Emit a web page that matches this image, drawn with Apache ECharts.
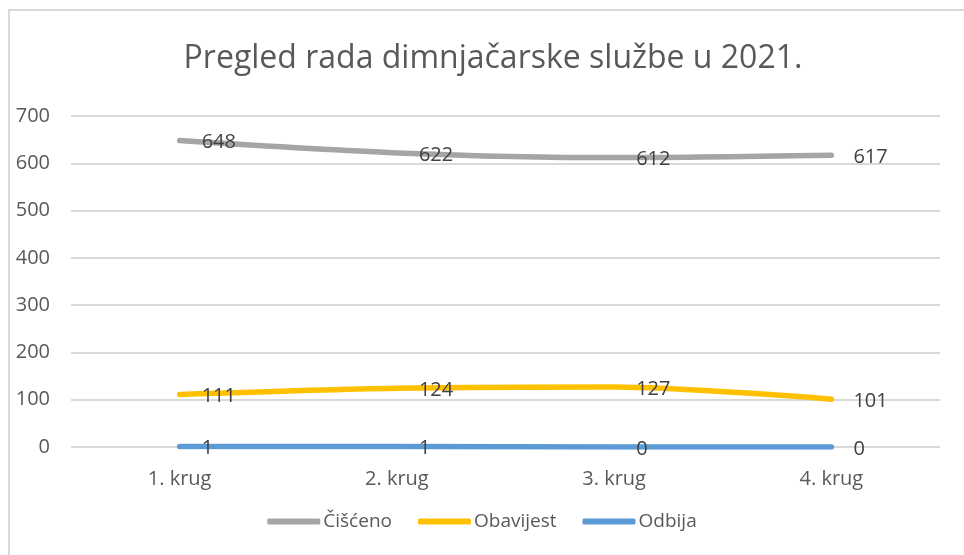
<!DOCTYPE html>
<html lang="hr">
<head>
    <meta charset="UTF-8">
    <title>Pregled rada dimnjačarske službe u 2021.</title>
    <script src="https://cdn.jsdelivr.net/npm/echarts/dist/echarts.min.js"></script>
    <style>
        html, body { margin: 0; padding: 0; background: #fff; }
        #chart { width: 964px; height: 555px; }
    </style>
</head>
<body>
    <div id="chart"></div>
    <script>
        const categories = ['1. krug', '2. krug', '3. krug', '4. krug'];
        const ciscenoValues = [648, 622, 612, 617];
        const obavijestValues = [111, 124, 127, 101];
        const odbijaValues = [1, 1, 0, 0];
        const yTicks = [0, 100, 200, 300, 400, 500, 600, 700];

        const font = '"Open Sans", "Noto Sans", sans-serif';
        const textColor = '#595959';

        function lineSeries(name, data, color) {
            return {
                name: name,
                type: 'line',
                data: data,
                smooth: 0.3,
                symbol: 'circle',
                symbolSize: 2,
                lineStyle: { color: color, width: 5.5, cap: 'round' },
                itemStyle: { color: color },
                label: {
                    show: true,
                    position: 'right',
                    distance: 21,
                    offset: [0, 2],
                    color: '#404040',
                    fontFamily: font,
                    fontSize: 20
                }
            };
        }

        const chart = echarts.init(document.getElementById('chart'));
        chart.setOption({
            animation: false,
            graphic: [{
                type: 'rect',
                shape: { x: 9, y: 10, width: 1000, height: 600 },
                style: { fill: 'none', stroke: '#d9d9d9', lineWidth: 2 },
                silent: true
            }],
            title: {
                text: 'Pregled rada dimnjačarske službe u 2021.',
                left: 488,
                textAlign: 'center',
                top: 38,
                textStyle: { color: textColor, fontFamily: font, fontSize: 32, fontWeight: 'normal' }
            },
            legend: {
                bottom: 19,
                left: 'center',
                itemWidth: 53,
                itemHeight: 6,
                itemGap: 26,
                icon: 'roundRect',
                textStyle: { color: textColor, fontFamily: font, fontSize: 19, padding: [0, 0, 0, -2] },
                data: ['Čišćeno', 'Obavijest', 'Odbija']
            },
            grid: { left: 71, right: 24, top: 116, bottom: 108 },
            xAxis: {
                type: 'category',
                data: categories,
                axisLine: { show: false },
                axisTick: { show: false },
                axisLabel: { color: textColor, fontFamily: font, fontSize: 20, margin: 22 }
            },
            yAxis: {
                type: 'value',
                min: yTicks[0],
                max: yTicks[yTicks.length - 1],
                interval: 100,
                axisLine: { show: false },
                axisTick: { show: false },
                axisLabel: { color: textColor, fontFamily: font, fontSize: 20, margin: 21 },
                splitLine: { lineStyle: { color: '#d9d9d9', width: 2 } }
            },
            series: [
                lineSeries('Čišćeno', ciscenoValues, '#a5a5a5'),
                lineSeries('Obavijest', obavijestValues, '#ffc000'),
                lineSeries('Odbija', odbijaValues, '#5b9bd5')
            ]
        });
    </script>
</body>
</html>
